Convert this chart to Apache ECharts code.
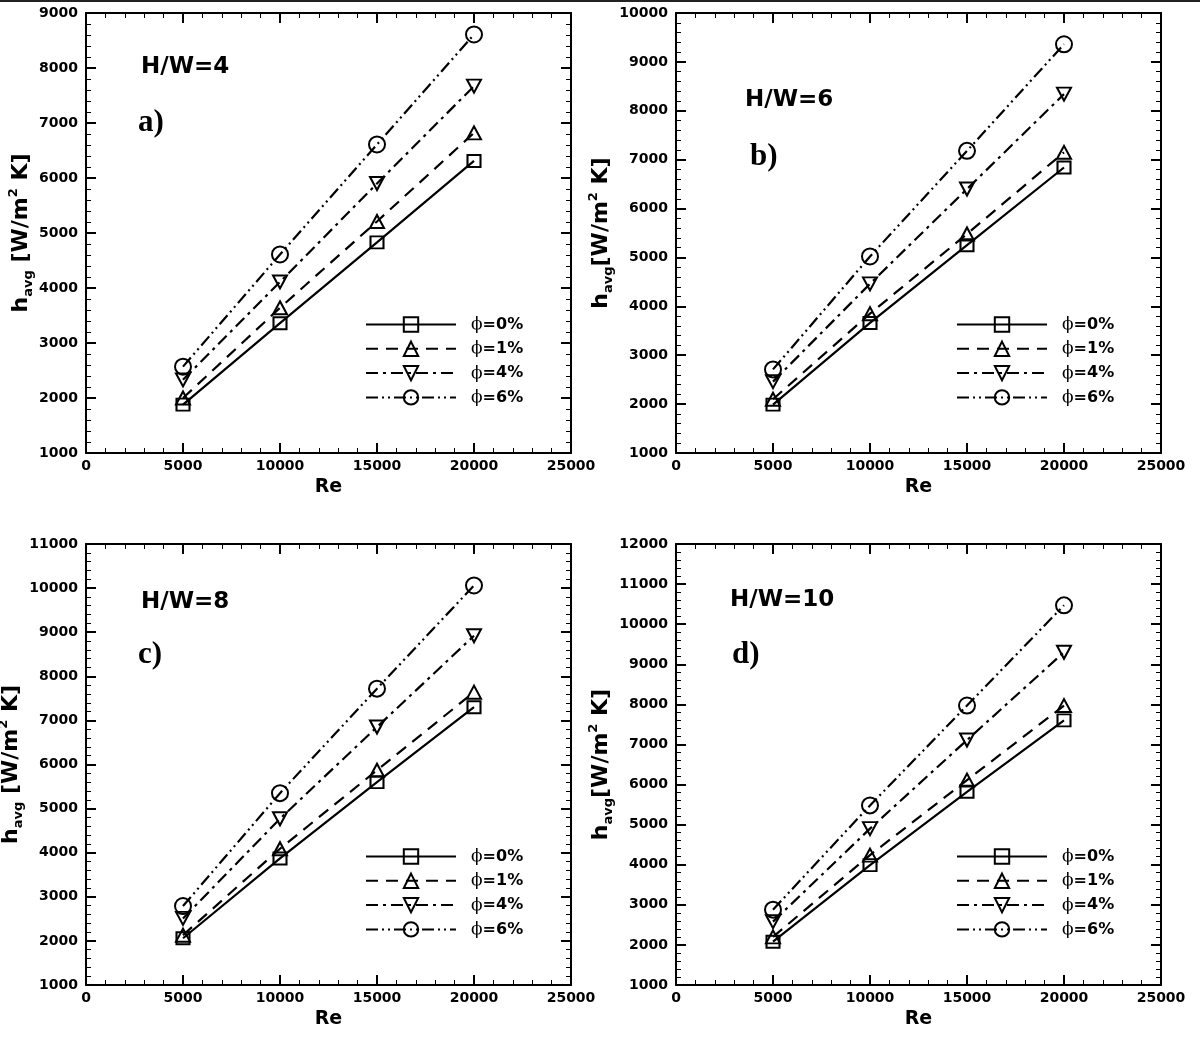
<!DOCTYPE html>
<html><head><meta charset="utf-8">
<script src="https://cdn.jsdelivr.net/npm/echarts@6/dist/echarts.min.js"></script>
<style>html,body{margin:0;padding:0;background:#fff}#c{width:1200px;height:1038px}</style>
</head><body><div id="c"></div><script>
// ---------------- data ----------------
const reValues = [5000, 10000, 15000, 20000];
const seriesNames = ['ϕ=0%', 'ϕ=1%', 'ϕ=4%', 'ϕ=6%'];
const panelTitles = ['H/W=4', 'H/W=6', 'H/W=8', 'H/W=10'];
const panelTags = ['a)', 'b)', 'c)', 'd)'];
const yMin = 1000;
const yMaxes = [9000, 10000, 11000, 12000];
const xTicks = [0, 5000, 10000, 15000, 20000, 25000];

// h_avg [W/m2 K] per panel (H/W) and nanofluid fraction
const hw4_phi0 = [1880, 3360, 4830, 6310];
const hw4_phi1 = [2000, 3640, 5210, 6820];
const hw4_phi4 = [2330, 4110, 5900, 7670];
const hw4_phi6 = [2570, 4610, 6610, 8610];

const hw6_phi0 = [1990, 3660, 5250, 6840];
const hw6_phi1 = [2100, 3850, 5480, 7150];
const hw6_phi4 = [2460, 4460, 6400, 8340];
const hw6_phi6 = [2710, 5020, 7180, 9360];

const hw8_phi0 = [2060, 3870, 5600, 7300];
const hw8_phi1 = [2130, 4090, 5870, 7640];
const hw8_phi4 = [2510, 4770, 6850, 8920];
const hw8_phi6 = [2790, 5350, 7720, 10060];

const hw10_phi0 = [2080, 3990, 5820, 7600];
const hw10_phi1 = [2200, 4240, 6110, 7970];
const hw10_phi4 = [2580, 4900, 7110, 9300];
const hw10_phi6 = [2880, 5480, 7970, 10470];

const panelData = [
  [hw4_phi0, hw4_phi1, hw4_phi4, hw4_phi6],
  [hw6_phi0, hw6_phi1, hw6_phi4, hw6_phi6],
  [hw8_phi0, hw8_phi1, hw8_phi4, hw8_phi6],
  [hw10_phi0, hw10_phi1, hw10_phi4, hw10_phi6]
];

// ---------------- layout / style ----------------
const F = 'DejaVu Sans';
const grids = [
  {left: 86, top: 13, width: 485, height: 440},
  {left: 676, top: 13, width: 485, height: 440},
  {left: 86, top: 544, width: 485, height: 441},
  {left: 676, top: 544, width: 485, height: 441}
].map(g => Object.assign({containLabel: false, outerBoundsMode: 'none'}, g));
const legendPos = [
  {left: 365, top: 316}, {left: 956, top: 316},
  {left: 365, top: 848}, {left: 956, top: 848}
];
const titlePos = [
  {x: 141, y: 67, tx: 138, ty: 123},
  {x: 745, y: 100, tx: 750, ty: 157},
  {x: 141, y: 602, tx: 138, ty: 655},
  {x: 730, y: 600, tx: 732, ty: 655}
];
const styles = [
  {symbol: 'rect', size: [13, 12], dash: 'solid'},
  {symbol: 'triangle', size: [14, 13], dash: [12, 8]},
  {symbol: 'path://M0,0L10,0L5,9Z', size: [14, 13], dash: [12, 5, 3, 5]},
  {symbol: 'circle', size: 16, dash: [12, 4, 2, 4, 2, 4]}
];

const axisLineStyle = {color: '#000', width: 2};
const xAxes = [], yAxes = [], series = [], legends = [], graphics = [];
const plain = v => String(v);

function yName(i) {
  const sp = (i % 2 === 0) ? ' ' : '';
  return '{h|h}{s|avg}{b|' + sp + '[W/m}{p|2}{b| K]}';
}

grids.forEach((g, i) => {
  const yMax = yMaxes[i];
  xAxes.push({
    type: 'value', gridIndex: i, position: 'bottom', min: xTicks[0], max: xTicks[xTicks.length - 1], interval: 5000,
    name: 'Re', nameLocation: 'middle', nameGap: 25,
    nameTextStyle: {fontFamily: F, fontWeight: 'bold', fontSize: 19, color: '#000'},
    axisLine: {show: true, onZero: false, lineStyle: axisLineStyle},
    axisTick: {show: true, inside: true, length: 10, lineStyle: {color: '#000', width: 2}},
    minorTick: {show: true, splitNumber: 5, length: 5, lineStyle: {color: '#000', width: 1}},
    axisLabel: {show: true, margin: 6, formatter: plain, fontFamily: F, fontWeight: 'bold', fontSize: 14, color: '#000'},
    splitLine: {show: false}
  });
  xAxes.push({
    type: 'value', gridIndex: i, position: 'top', min: xTicks[0], max: xTicks[xTicks.length - 1], interval: 5000,
    axisLine: {show: true, onZero: false, lineStyle: axisLineStyle},
    axisTick: {show: true, inside: true, length: 10, lineStyle: {color: '#000', width: 2}},
    minorTick: {show: true, splitNumber: 5, length: 5, lineStyle: {color: '#000', width: 1}},
    axisLabel: {show: false}, splitLine: {show: false}
  });
  yAxes.push({
    type: 'value', gridIndex: i, position: 'left', min: yMin, max: yMax, interval: 1000,
    name: yName(i), nameLocation: 'middle', nameRotate: 90, nameGap: 45,
    nameTextStyle: {
      color: '#000',
      rich: {
        h: {fontFamily: F, fontWeight: 'bold', fontSize: 22, lineHeight: 28, color: '#000'},
        b: {fontFamily: F, fontWeight: 'bold', fontSize: 22, lineHeight: 28, color: '#000'},
        s: {fontFamily: F, fontWeight: 'bold', fontSize: 13, lineHeight: 13, verticalAlign: 'bottom', color: '#000'},
        p: {fontFamily: F, fontWeight: 'bold', fontSize: 13, lineHeight: 13, verticalAlign: 'top', color: '#000'}
      }
    },
    axisLine: {show: true, onZero: false, lineStyle: axisLineStyle},
    axisTick: {show: true, inside: true, length: 10, lineStyle: {color: '#000', width: 2}},
    minorTick: {show: true, splitNumber: 5, length: 5, lineStyle: {color: '#000', width: 1}},
    axisLabel: {show: true, margin: 8, formatter: plain, fontFamily: F, fontWeight: 'bold', fontSize: 14, color: '#000'},
    splitLine: {show: false}
  });
  yAxes.push({
    type: 'value', gridIndex: i, position: 'right', min: yMin, max: yMax, interval: 1000,
    axisLine: {show: true, onZero: false, lineStyle: axisLineStyle},
    axisTick: {show: true, inside: true, length: 10, lineStyle: {color: '#000', width: 2}},
    minorTick: {show: true, splitNumber: 5, length: 5, lineStyle: {color: '#000', width: 1}},
    axisLabel: {show: false}, splitLine: {show: false}
  });

  panelData[i].forEach((vals, k) => {
    const st = styles[k];
    series.push({
      type: 'line', name: seriesNames[k], xAxisIndex: 2 * i, yAxisIndex: 2 * i,
      data: reValues.map((x, j) => [x, vals[j]]),
      symbol: st.symbol, symbolSize: st.size, showAllSymbol: true,
      lineStyle: {color: '#000', width: 2.2, type: st.dash},
      itemStyle: {color: 'rgba(255,255,255,0)', borderColor: '#000', borderWidth: 2},
      emphasis: {disabled: true}, animation: false, z: 3 + k
    });
  });

  legends.push({
    orient: 'vertical', left: legendPos[i].left, top: legendPos[i].top, padding: 0,
    itemWidth: 90, itemHeight: 18, itemGap: 7.3,
    data: seriesNames, selectedMode: false,
    formatter: n => '{p|ϕ}{t|' + n.slice(1) + '}',
    textStyle: {
      padding: [0, 0, 0, 10],
      rich: {
        p: {fontFamily: 'DejaVu Serif', fontSize: 17, fontWeight: 'normal', color: '#000'},
        t: {fontFamily: F, fontSize: 16, fontWeight: 'bold', color: '#000'}
      }
    }
  });

  const tp = titlePos[i];
  graphics.push({
    type: 'text', x: tp.x, y: tp.y,
    style: {text: panelTitles[i], font: 'bold 23px "DejaVu Sans"', fill: '#000', textAlign: 'left', textVerticalAlign: 'middle'}
  });
  graphics.push({
    type: 'text', x: tp.tx, y: tp.ty,
    style: {text: panelTags[i], font: 'bold 31px "Liberation Serif"', fill: '#000', textAlign: 'left', textVerticalAlign: 'middle'}
  });
});

graphics.push({type: 'rect', shape: {x: 0, y: 0, width: 1200, height: 2}, style: {fill: '#222'}});

const chart = echarts.init(document.getElementById('c'), null, {renderer: 'canvas'});
chart.setOption({
  backgroundColor: '#fff',
  animation: false,
  grid: grids,
  xAxis: xAxes,
  yAxis: yAxes,
  legend: legends,
  series: series,
  graphic: graphics
});
</script></body></html>
